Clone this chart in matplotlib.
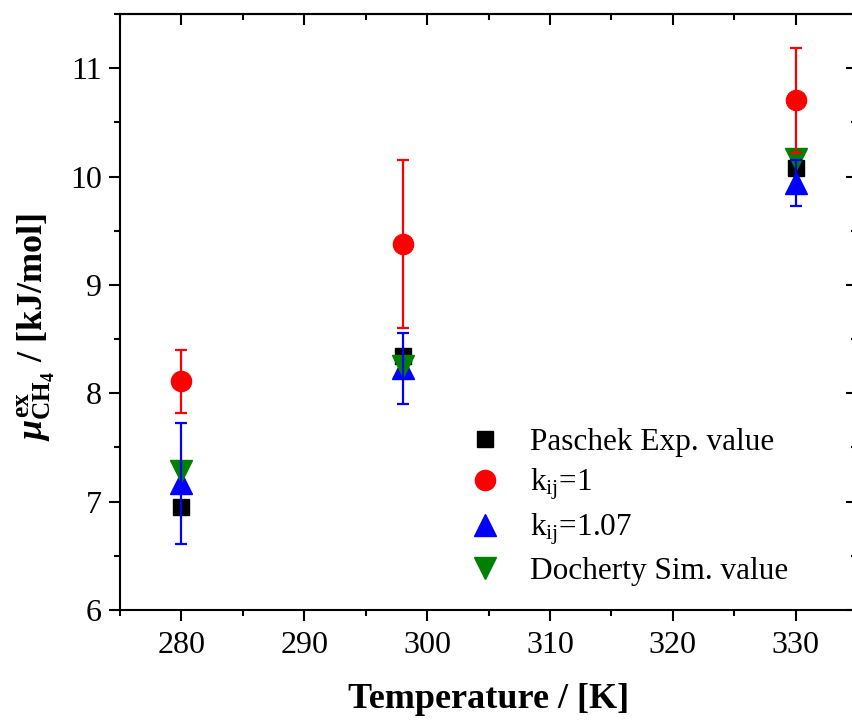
import matplotlib
matplotlib.use("Agg")
import matplotlib.pyplot as plt
from matplotlib.ticker import MultipleLocator

plt.rcParams['font.family'] = ['Liberation Serif', 'DejaVu Serif']
plt.rcParams['mathtext.fontset'] = 'custom'
plt.rcParams['mathtext.rm'] = 'Liberation Serif'
plt.rcParams['mathtext.it'] = 'Liberation Serif:italic:bold'
plt.rcParams['mathtext.bf'] = 'Liberation Serif:bold'

# data
temperature = [280, 298, 330]
paschek_exp = [6.95, 8.34, 10.08]
kij_1 = [8.11, 9.375, 10.705]
kij_1_err = [0.29, 0.775, 0.485]
kij_107 = [7.17, 8.23, 9.94]
kij_107_err = [0.56, 0.33, 0.21]
docherty_sim = [7.28, 8.25, 10.16]

labels = ["Paschek Exp. value", r"k$_\mathrm{ij}$=1", r"k$_\mathrm{ij}$=1.07",
          "Docherty Sim. value"]

fig = plt.figure(figsize=(8.53, 7.2), dpi=100)
ax = fig.add_axes([0.1407, 0.1528, 0.864, 0.8278])

ax.plot(temperature, paschek_exp, 's', color='black', ms=12, ls='none',
        label=labels[0], zorder=3)
ax.plot(temperature, kij_1, 'o', color='red', ms=14.5, ls='none',
        label=labels[1], zorder=3)
ax.plot(temperature, kij_107, '^', color='blue', ms=16, ls='none',
        label=labels[2], zorder=3)
ax.plot(temperature, docherty_sim, 'v', color='green', ms=16, ls='none',
        label=labels[3], zorder=3)

# error bars drawn over the markers
ax.errorbar(temperature, kij_1, yerr=kij_1_err, fmt='none', ecolor='red',
            elinewidth=1.6, capsize=4, capthick=1.6, zorder=4)
ax.errorbar(temperature, kij_107, yerr=kij_107_err, fmt='none', ecolor='blue',
            elinewidth=1.6, capsize=4, capthick=1.6, zorder=4)

ax.set_xlim(275, 335)
ax.set_ylim(6, 11.5)
ax.xaxis.set_major_locator(MultipleLocator(10))
ax.xaxis.set_minor_locator(MultipleLocator(5))
ax.yaxis.set_major_locator(MultipleLocator(1))
ax.yaxis.set_minor_locator(MultipleLocator(0.5))
ax.tick_params(which='both', direction='out', width=1.5, labelsize=23)
ax.tick_params(axis='x', pad=7)
ax.tick_params(axis='y', pad=5)
ax.tick_params(which='major', length=8)
ax.tick_params(which='minor', length=4)
for sp in ax.spines.values():
    sp.set_linewidth(1.5)

# mirrored ticks on top and right pointing inward
top = ax.secondary_xaxis('top')
top.xaxis.set_major_locator(MultipleLocator(10))
top.xaxis.set_minor_locator(MultipleLocator(5))
top.tick_params(which='both', direction='in', width=1.5, labeltop=False)
top.tick_params(which='major', length=8)
top.tick_params(which='minor', length=4)
top.spines['top'].set_linewidth(1.5)
right = ax.secondary_yaxis('right')
right.yaxis.set_major_locator(MultipleLocator(1))
right.yaxis.set_minor_locator(MultipleLocator(0.5))
right.tick_params(which='both', direction='in', width=1.5, labelright=False)
right.tick_params(which='major', length=8)
right.tick_params(which='minor', length=4)
right.spines['right'].set_linewidth(1.5)

ax.set_xlabel("Temperature / [K]", fontsize=26, fontweight='bold')
ax.xaxis.set_label_coords(0.5, -0.122)
ax.set_ylabel(r"$\mu^{\mathbf{ex}}_{\mathbf{CH_4}}$ / [kJ/mol]", fontsize=26,
              fontweight='bold')
ax.yaxis.set_label_coords(-0.085, 0.475)

ax.legend(loc='lower left', bbox_to_anchor=(0.44, 0.02), frameon=False,
          fontsize=22.5, handletextpad=0.55, labelspacing=0.3,
          borderaxespad=0, handlelength=1.8)

fig.savefig("out.png", dpi=100)
